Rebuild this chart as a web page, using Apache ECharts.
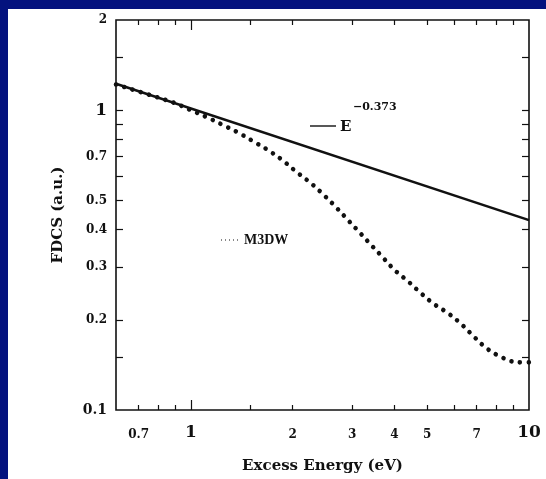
<!DOCTYPE html>
<html>
<head>
<meta charset="utf-8">
<script src="https://cdn.jsdelivr.net/npm/echarts@6/dist/echarts.min.js"></script>
<style>
  html, body { margin: 0; padding: 0; background: #04127e; }
  body { width: 546px; height: 479px; position: relative; overflow: hidden; }
  #chart { position: absolute; left: 8px; top: 9px; width: 538px; height: 470px; background: #ffffff; }
</style>
</head>
<body>
<div id="chart"></div>
<script>
// Excess energy (eV) and the M3DW calculation
const energy = [0.6, 0.756, 0.895, 1.0, 1.118, 1.245, 1.388, 1.538, 1.704, 1.875, 2.05, 2.255, 2.465, 2.675, 2.904, 3.152, 3.398, 3.688, 4.003, 4.375, 4.78, 5.225, 5.788, 6.327, 6.867, 7.505, 8.317, 9.277, 10];
const m3dw = [1.219, 1.124, 1.057, 1.0, 0.946, 0.892, 0.839, 0.784, 0.732, 0.678, 0.623, 0.573, 0.523, 0.477, 0.432, 0.3915, 0.357, 0.3236, 0.293, 0.2695, 0.2458, 0.226, 0.2096, 0.1927, 0.1758, 0.1604, 0.1498, 0.1442, 0.1442];

// Power-law reference line E^-0.373 (straight on log-log axes)
const fitEnergy = [0.6, 10];
const fitValues = [1.225, 0.43];

// Tick positions and labels
const xMinorTicks = [0.7, 0.8, 0.9, 1.5, 2, 3, 4, 5, 6, 7, 8, 9];
const xMajorTicks = [1];
const xLabels = [0.7, 1, 2, 3, 4, 5, 7, 10];
const yTicks = [0.15, 0.2, 0.3, 0.4, 0.5, 0.6, 0.7, 0.8, 0.9, 1, 1.5];
const yLabels = [0.1, 0.2, 0.3, 0.4, 0.5, 0.7, 1, 2];

const SERIF = '"DejaVu Serif", "Liberation Serif", serif';
const NARROW_SERIF = '"Liberation Serif", "DejaVu Serif", serif';
const ink = '#111111';

function pairs(xs, ys) { return xs.map((x, i) => [x, ys[i]]); }

const labelRich = {
  s: { fontFamily: SERIF, fontWeight: 'bold', fontSize: 12, color: ink },
  b: { fontFamily: SERIF, fontWeight: 'bold', fontSize: 17, color: ink },
  m: { fontFamily: SERIF, fontWeight: 'bold', fontSize: 14, color: ink }
};

function xAxisDef(position, ticks, len, withLabels) {
  return {
    type: 'log', logBase: 10, min: 0.6, max: 10, position: position,
    axisLine: { show: false },
    splitLine: { show: false },
    axisTick: { show: true, inside: true, length: len, customValues: ticks,
      lineStyle: { color: ink, width: 1.2 } },
    axisLabel: withLabels ? {
      show: true, customValues: xLabels, margin: 31, verticalAlign: 'bottom',
      formatter: v => (v === 1 || v === 10) ? '{b|' + v + '}' : '{s|' + v + '}',
      rich: labelRich
    } : { show: false },
    name: withLabels ? 'Excess Energy (eV)' : '',
    nameLocation: 'middle', nameGap: 49,
    nameTextStyle: { fontFamily: SERIF, fontWeight: 'bold', fontSize: 15, color: ink }
  };
}

function yAxisDef(position, withLabels) {
  return {
    type: 'log', logBase: 10, min: 0.1, max: 2, position: position,
    axisLine: { show: false },
    splitLine: { show: false },
    axisTick: { show: true, inside: true, length: 7, customValues: yTicks,
      lineStyle: { color: ink, width: 1.2 } },
    axisLabel: withLabels ? {
      show: true, customValues: yLabels, margin: 9,
      formatter: v => v === 1 ? '{b|1}' : (v === 0.1 ? '{m|0.1}' : '{s|' + v + '}'),
      rich: labelRich
    } : { show: false },
    name: withLabels ? 'FDCS (a.u.)' : '',
    nameLocation: 'middle', nameGap: 50, nameRotate: 90,
    nameTextStyle: { fontFamily: SERIF, fontWeight: 'bold', fontSize: 15, color: ink }
  };
}

const chart = echarts.init(document.getElementById('chart'), null, { renderer: 'canvas' });

chart.setOption({
  animation: false,
  backgroundColor: '#ffffff',
  grid: { left: 108, top: 11, right: 17, bottom: 65, show: true,
    borderColor: ink, borderWidth: 1.6, backgroundColor: 'transparent' },
  xAxis: [
    xAxisDef('bottom', xMinorTicks, 5, true),
    xAxisDef('bottom', xMajorTicks, 10, false),
    xAxisDef('top', xMinorTicks, 5, false),
    xAxisDef('top', xMajorTicks, 10, false)
  ],
  yAxis: [
    yAxisDef('left', true),
    yAxisDef('right', false)
  ],
  series: [
    {
      name: 'E^-0.373', type: 'line', xAxisIndex: 0, yAxisIndex: 0,
      data: pairs(fitEnergy, fitValues),
      showSymbol: false,
      lineStyle: { color: ink, width: 2.6 }
    },
    {
      name: 'M3DW', type: 'line', xAxisIndex: 0, yAxisIndex: 0,
      data: pairs(energy, m3dw),
      showSymbol: false, smooth: 0.35,
      lineStyle: { color: ink, width: 4.6, type: [0.001, 8.6], cap: 'round' }
    }
  ],
  graphic: [
    // key for the power-law line
    { type: 'line', shape: { x1: 302, y1: 117, x2: 328, y2: 117 },
      style: { stroke: ink, lineWidth: 1.4 } },
    { type: 'text', left: 332, top: 111,
      style: { text: 'E', fontFamily: SERIF, fontWeight: 'bold', fontSize: 15, fill: ink } },
    { type: 'text', left: 345, top: 93,
      style: { text: '\u22120.373', fontFamily: SERIF, fontWeight: 'bold', fontSize: 11, fill: ink } },
    // key for the M3DW curve
    { type: 'line', shape: { x1: 213, y1: 231, x2: 232, y2: 231 },
      style: { stroke: ink, lineWidth: 1.2, lineDash: [1, 3] } },
    { type: 'text', left: 236, top: 224,
      style: { text: 'M3DW', fontFamily: NARROW_SERIF, fontWeight: 'bold', fontSize: 14, fill: ink } }
  ]
});
</script>
</body>
</html>
